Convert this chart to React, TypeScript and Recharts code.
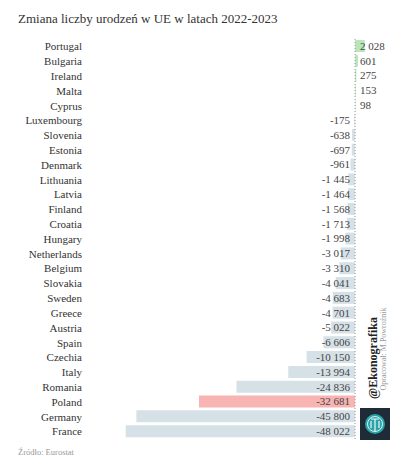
import React from "react";
import { BarChart, Bar, XAxis, YAxis, Cell, LabelList, ReferenceLine } from "recharts";

const countries = [
  "Portugal", "Bulgaria", "Ireland", "Malta", "Cyprus", "Luxembourg", "Slovenia", "Estonia",
  "Denmark", "Lithuania", "Latvia", "Finland", "Croatia", "Hungary", "Netherlands", "Belgium",
  "Slovakia", "Sweden", "Greece", "Austria", "Spain", "Czechia", "Italy", "Romania", "Poland",
  "Germany", "France",
];

const changes = [
  2028, 601, 275, 153, 98, -175, -638, -697,
  -961, -1445, -1464, -1568, -1713, -1998, -3017, -3310,
  -4041, -4683, -4701, -5022, -6606, -10150, -13994, -24836, -32681,
  -45800, -48022,
];

const highlighted = "Poland";

const data = countries.map((name, i) => ({ name, value: changes[i] }));

const SERIF = "'Liberation Serif', 'DejaVu Serif', serif";

const fmt = (v: number) => {
  const s = Math.abs(v).toString().replace(/\B(?=(\d{3})+(?!\d))/g, " ");
  return (v < 0 ? "-" : "") + s;
};

const ValueLabel = (props: any) => {
  const { x, y, width, height, value } = props;
  const zeroX = value < 0 ? Math.max(x, x + width) : Math.min(x, x + width);
  const neg = value < 0;
  return (
    <text
      x={neg ? zeroX - 5 : zeroX + 5}
      y={y + height / 2}
      dy="0.35em"
      textAnchor={neg ? "end" : "start"}
      fontSize={11}
      style={{ fontFamily: SERIF }}
      fill="#444"
    >
      {fmt(value)}
    </text>
  );
};

const CountryTick = (props: any) => {
  const { y, payload } = props;
  return (
    <text x={82} y={y} dy="0.35em" textAnchor="end" fontSize={11} fill="#333" style={{ fontFamily: SERIF }}>
      {payload.value}
    </text>
  );
};

export default function App() {
  return (
    <div style={{ position: "fixed", top: 0, left: 0, width: 400, height: 470, background: "#fff", fontFamily: SERIF }}>
      <div style={{ position: "absolute", left: 18, top: 11, fontSize: 13, color: "#333", whiteSpace: "nowrap" }}>
        Zmiana liczby urodzeń w UE w latach 2022-2023
      </div>

      <div style={{ position: "absolute", left: 0, top: 39 }}>
        <BarChart
          width={400}
          height={400}
          data={data}
          layout="vertical"
          margin={{ top: 0, right: 34, left: 0, bottom: 0 }}
        >
          <XAxis type="number" hide domain={[-55500, 2290]} allowDataOverflow />
          <YAxis
            type="category"
            dataKey="name"
            width={90}
            axisLine={false}
            tickLine={false}
            interval={0}
            tick={<CountryTick />}
          />
          <Bar dataKey="value" barSize={12} isAnimationActive={false}>
            {data.map((d) => (
              <Cell
                key={d.name}
                fill={d.value > 0 ? "#b8e6b8" : d.name === highlighted ? "#f8b3b3" : "#d6e1e7"}
              />
            ))}
            <LabelList dataKey="value" content={ValueLabel} />
          </Bar>
          <ReferenceLine x={0} stroke="#999" strokeDasharray="1 2" ifOverflow="extendDomain" />
        </BarChart>
      </div>

      <div
        style={{
          position: "absolute",
          left: 373,
          top: 358,
          transform: "translate(-50%, -50%) rotate(-90deg)",
          fontSize: 12,
          fontWeight: "bold",
          color: "#222",
          whiteSpace: "nowrap",
        }}
      >
        @Ekonografika
      </div>
      <div
        style={{
          position: "absolute",
          left: 383,
          top: 349,
          transform: "translate(-50%, -50%) rotate(-90deg)",
          fontSize: 8,
          color: "#999",
          whiteSpace: "nowrap",
        }}
      >
        Opracował: M.Powroźnik
      </div>

      <svg style={{ position: "absolute", left: 360, top: 408 }} width={30} height={32}>
        <rect x={0} y={0} width={30} height={32} fill="#1f2b36" />
        <circle cx={15} cy={16} r={10} fill="#2aa3a8" />
        <circle cx={15} cy={16} r={7.5} fill="none" stroke="#d8f3f3" strokeWidth={1} />
        <path d="M11 11 L19 11 M15 11 L15 23 M11 13 L11 20 M19 13 L19 20" stroke="#e8fbfb" strokeWidth={1.2} fill="none" />
      </svg>

      <div style={{ position: "absolute", left: 18, top: 447, fontSize: 8.5, color: "#999" }}>
        Źródło: Eurostat
      </div>
    </div>
  );
}
